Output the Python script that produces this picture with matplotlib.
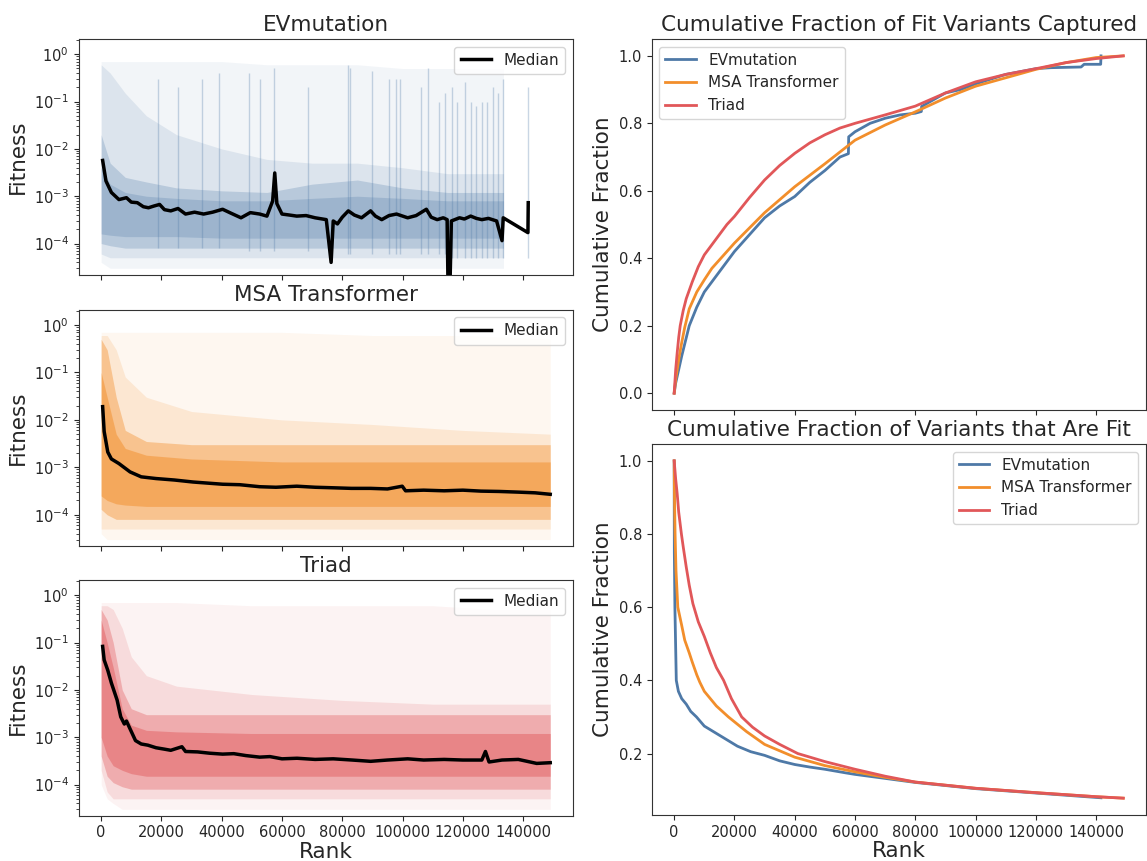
import matplotlib
matplotlib.use('Agg')
import matplotlib.pyplot as plt

plt.rcParams['font.family'] = ['DejaVu Sans']
plt.rcParams['text.color'] = '#262626'
plt.rcParams['axes.labelcolor'] = '#262626'
plt.rcParams['xtick.color'] = '#262626'
plt.rcParams['ytick.color'] = '#262626'
plt.rcParams['axes.edgecolor'] = '#333333'

blue = '#4e79a7'
orange = '#f28e2b'
red = '#e15759'

# ---- EVmutation: fitness cloud (bands) ----
ev_band_rank = [0, 3000, 8000, 15000, 25000, 40000, 55000, 70000, 85000, 100000, 115000, 133500]
ev_outer_hi = [0.7, 0.7, 0.7, 0.7, 0.7, 0.7, 0.6, 0.6, 0.6, 0.5, 0.5, 0.5]
ev_outer_lo = [4e-5, 3e-5, 3e-5, 3e-5, 3e-5, 3e-5, 3e-5, 3e-5, 3e-5, 3e-5, 3e-5, 3e-5]
ev_mid_hi = [0.6, 0.4, 0.15, 0.05, 0.02, 0.01, 6e-3, 5e-3, 5e-3, 4e-3, 3e-3, 3e-3]
ev_mid_lo = [6e-5, 5e-5, 5e-5, 5e-5, 5e-5, 5e-5, 5e-5, 5e-5, 5e-5, 5e-5, 5e-5, 5e-5]
ev_core_hi = [2e-2, 5e-3, 2.5e-3, 2e-3, 1.5e-3, 1.3e-3, 1.2e-3, 1.8e-3, 2.2e-3, 1.5e-3, 1.2e-3, 1.2e-3]
ev_core_lo = [1e-4, 9e-5, 8e-5, 8e-5, 8e-5, 8e-5, 8e-5, 8e-5, 8e-5, 8e-5, 8e-5, 8e-5]
ev_inner_hi = [4e-3, 1.8e-3, 1.2e-3, 1e-3, 9e-4, 8e-4, 8e-4, 9e-4, 1e-3, 9e-4, 8e-4, 8e-4]
ev_inner_lo = [1.6e-4, 1.5e-4, 1.4e-4, 1.4e-4, 1.4e-4, 1.3e-4, 1.3e-4, 1.3e-4, 1.3e-4, 1.3e-4, 1.3e-4, 1.3e-4]

ev_stripe_rank = [18800, 25500, 33500, 39000, 48900, 52600, 57500, 68500, 81800, 82700, 90000,
                  95600, 97800, 99300, 106000, 108500, 112200, 114000, 116500, 117900, 120800,
                  122600, 124500, 126300, 128100, 130000, 131800, 133400, 141600]
ev_stripe_top = [0.3, 0.2, 0.3, 0.4, 0.4, 0.3, 0.5, 0.2, 0.6, 0.5, 0.45, 0.3, 0.3, 0.3, 0.2,
                 0.5, 0.1, 0.15, 0.2, 0.1, 0.26, 0.1, 0.08, 0.1, 0.1, 0.2, 0.15, 0.3, 0.2]
ev_stripe_bot = [8e-5, 8e-5, 8e-5, 8e-5, 7e-5, 7e-5, 7e-5, 7e-5, 6e-5, 6e-5, 6e-5, 6e-5, 6e-5,
                 6e-5, 6e-5, 6e-5, 6e-5, 6e-5, 5e-5, 5e-5, 5e-5, 5e-5, 5e-5, 5e-5, 5e-5, 5e-5,
                 5e-5, 5e-5, 5e-5]

ev_med_rank = [500, 1600, 3400, 5900, 8400, 10000, 12000, 14000, 15700, 17500, 19400, 21000, 23100,
               25500, 28000, 31000, 34000, 37000, 40300, 43000, 46400, 49500, 52600, 55000, 56900,
               57600, 58300, 60000, 62500, 64900, 68000, 71000, 74700, 76300, 77000, 78400, 80000,
               82000, 84000, 86400, 89400, 91000, 93100, 95500, 98000, 101700, 104500, 107900,
               109500, 111500, 113500, 114800, 115100, 115700, 116200, 118900, 120500, 122600,
               124500, 126300, 128500, 131200, 133000, 133400, 141600, 141700]
ev_med = [5.7e-3, 2.1e-3, 1.2e-3, 8.5e-4, 9.3e-4, 7.5e-4, 7.3e-4, 6.0e-4, 5.7e-4, 6.2e-4, 6.7e-4,
          5.2e-4, 4.9e-4, 5.5e-4, 4.2e-4, 4.6e-4, 4.2e-4, 4.6e-4, 5.3e-4, 4.4e-4, 3.5e-4, 4.5e-4,
          4.2e-4, 3.8e-4, 7.9e-4, 3.1e-3, 7e-4, 4.2e-4, 4.0e-4, 3.8e-4, 3.9e-4, 3.5e-4, 3.2e-4,
          4e-5, 3e-4, 2.6e-4, 3.6e-4, 4.9e-4, 4.0e-4, 3.5e-4, 4.9e-4, 3.8e-4, 3.2e-4, 3.9e-4,
          4.2e-4, 3.5e-4, 3.9e-4, 5.3e-4, 3.6e-4, 3.2e-4, 3.5e-4, 3.2e-4, 1e-5, 1e-5, 3e-4,
          3.5e-4, 3.3e-4, 3.8e-4, 3.4e-4, 3.2e-4, 3.4e-4, 3.0e-4, 1.15e-4, 3.5e-4, 1.7e-4, 7.3e-4]

# ---- MSA Transformer ----
msa_band_rank = [0, 2000, 5000, 8000, 15000, 30000, 60000, 90000, 120000, 149000]
msa_outer_hi = [0.7, 0.7, 0.7, 0.7, 0.7, 0.7, 0.7, 0.6, 0.6, 0.5]
msa_outer_lo = [4e-5, 3e-5, 3e-5, 3e-5, 3e-5, 3e-5, 3e-5, 3e-5, 3e-5, 3e-5]
msa_mid_hi = [0.6, 0.6, 0.3, 0.08, 0.03, 0.015, 0.01, 0.008, 0.006, 0.005]
msa_mid_lo = [5e-5, 5e-5, 5e-5, 5e-5, 5e-5, 5e-5, 5e-5, 5e-5, 5e-5, 5e-5]
msa_core_hi = [0.5, 0.3, 0.03, 6e-3, 3.5e-3, 3e-3, 3e-3, 3e-3, 3e-3, 3e-3]
msa_core_lo = [1.3e-4, 1e-4, 8e-5, 8e-5, 8e-5, 8e-5, 8e-5, 8e-5, 8e-5, 8e-5]
msa_inner_hi = [0.1, 0.03, 5e-3, 2.5e-3, 1.8e-3, 1.5e-3, 1.3e-3, 1.3e-3, 1.3e-3, 1.3e-3]
msa_inner_lo = [2.5e-4, 2e-4, 1.7e-4, 1.6e-4, 1.5e-4, 1.5e-4, 1.5e-4, 1.5e-4, 1.5e-4, 1.5e-4]

msa_med_rank = [500, 1000, 2200, 3400, 5900, 9600, 13300, 18200, 24300, 30500, 40300, 46000,
                52600, 58000, 64900, 71000, 77200, 83000, 89400, 95000, 99900, 101000, 107000,
                113800, 120000, 126000, 132000, 138400, 144000, 149000]
msa_med = [1.9e-2, 5.7e-3, 2.1e-3, 1.5e-3, 1.2e-3, 8e-4, 6.3e-4, 5.8e-4, 5.4e-4, 4.9e-4, 4.4e-4,
           4.3e-4, 3.9e-4, 3.8e-4, 4.0e-4, 3.8e-4, 3.7e-4, 3.6e-4, 3.6e-4, 3.5e-4, 4.0e-4, 3.2e-4,
           3.3e-4, 3.2e-4, 3.3e-4, 3.15e-4, 3.1e-4, 3.0e-4, 2.9e-4, 2.7e-4]

# ---- Triad ----
tri_band_rank = [0, 2000, 4000, 7000, 10000, 15000, 25000, 50000, 80000, 110000, 130000, 149000]
tri_outer_hi = [0.7, 0.7, 0.7, 0.7, 0.7, 0.7, 0.7, 0.6, 0.6, 0.6, 0.5, 0.5]
tri_outer_lo = [1e-4, 5e-5, 4e-5, 3e-5, 3e-5, 3e-5, 3e-5, 3e-5, 3e-5, 3e-5, 3e-5, 3e-5]
tri_mid_hi = [0.6, 0.6, 0.5, 0.2, 0.05, 0.02, 0.012, 0.008, 0.006, 0.005, 0.005, 0.005]
tri_mid_lo = [2e-4, 7e-5, 5e-5, 5e-5, 5e-5, 5e-5, 5e-5, 5e-5, 5e-5, 5e-5, 5e-5, 5e-5]
tri_core_hi = [0.5, 0.3, 0.1, 0.01, 4e-3, 3e-3, 3e-3, 3e-3, 3e-3, 3e-3, 3e-3, 3e-3]
tri_core_lo = [4e-4, 1.5e-4, 1.1e-4, 9e-5, 8e-5, 8e-5, 8e-5, 8e-5, 8e-5, 8e-5, 8e-5, 8e-5]
tri_inner_hi = [0.3, 0.1, 0.03, 4e-3, 1.8e-3, 1.4e-3, 1.3e-3, 1.2e-3, 1.2e-3, 1.2e-3, 1.2e-3, 1.2e-3]
tri_inner_lo = [1e-3, 4e-4, 2.5e-4, 2e-4, 1.7e-4, 1.5e-4, 1.5e-4, 1.5e-4, 1.5e-4, 1.5e-4, 1.5e-4, 1.5e-4]

tri_med_rank = [500, 1000, 2200, 3400, 5300, 6500, 7700, 8400, 9600, 11400, 13300, 15500, 18200,
                21000, 23100, 26800, 28000, 32000, 36000, 40300, 44000, 48000, 52600, 56000, 60000,
                65000, 71000, 77000, 83300, 89400, 95000, 101700, 107000, 113800, 120000, 126300,
                127500, 128700, 133000, 138400, 144500, 149000]
tri_med = [8.3e-2, 4.3e-2, 2.6e-2, 1.4e-2, 6.1e-3, 2.7e-3, 1.9e-3, 2.2e-3, 1.5e-3, 8.5e-4, 7.2e-4,
           6.8e-4, 6e-4, 5.6e-4, 5.3e-4, 6.3e-4, 5.0e-4, 4.9e-4, 4.6e-4, 4.4e-4, 4.5e-4, 4.1e-4,
           3.8e-4, 3.9e-4, 3.5e-4, 3.6e-4, 3.4e-4, 3.5e-4, 3.3e-4, 3.1e-4, 3.3e-4, 3.5e-4, 3.3e-4,
           3.4e-4, 3.3e-4, 3.3e-4, 5e-4, 3.0e-4, 3.3e-4, 3.4e-4, 2.8e-4, 2.9e-4]

# ---- cumulative fraction of fit variants captured ----
cap_ev_rank = [0, 500, 1000, 2500, 5000, 7500, 10000, 12500, 15000, 20000, 25000, 30000, 35000,
               40000, 45000, 50000, 55000, 57800, 57900, 60000, 65000, 70000, 75000, 80000, 82000,
               82100, 90000, 95000, 100000, 110000, 120000, 125000, 130000, 135000, 136000,
               141500, 141600]
cap_ev = [0, 0.03, 0.05, 0.11, 0.2, 0.255, 0.3, 0.33, 0.36, 0.42, 0.47, 0.52, 0.555, 0.583, 0.625,
          0.66, 0.70, 0.71, 0.76, 0.775, 0.8, 0.815, 0.825, 0.83, 0.835, 0.85, 0.89, 0.90, 0.917,
          0.945, 0.962, 0.965, 0.966, 0.967, 0.975, 0.975, 1.0]
cap_msa_rank = [0, 500, 1000, 1700, 2500, 3500, 5000, 7500, 10000, 12500, 15000, 20000, 25000,
                30000, 40000, 50000, 60000, 70000, 80000, 90000, 100000, 110000, 120000, 130000,
                140000, 149000]
cap_msa = [0, 0.04, 0.07, 0.11, 0.15, 0.195, 0.25, 0.3, 0.336, 0.37, 0.395, 0.445, 0.49, 0.535,
           0.612, 0.68, 0.75, 0.795, 0.834, 0.875, 0.91, 0.935, 0.96, 0.98, 0.995, 1.0]
cap_tri_rank = [0, 500, 1000, 1500, 2000, 3000, 4000, 6000, 8000, 10000, 12500, 15000, 17500,
                20000, 25000, 30000, 35000, 40000, 45000, 50000, 55000, 60000, 70000, 80000, 90000,
                100000, 110000, 120000, 130000, 140000, 149000]
cap_tri = [0, 0.07, 0.12, 0.165, 0.2, 0.245, 0.28, 0.33, 0.375, 0.41, 0.44, 0.47, 0.50, 0.524,
           0.58, 0.632, 0.675, 0.711, 0.742, 0.766, 0.786, 0.80, 0.825, 0.851, 0.89, 0.923,
           0.945, 0.962, 0.98, 0.992, 1.0]

# ---- cumulative fraction of variants that are fit ----
fit_ev_rank = [0, 50, 240, 700, 1400, 2500, 4000, 5500, 7400, 10000, 13000, 17000, 21000, 25400,
               30000, 35000, 40000, 45000, 50000, 57000, 60000, 80000, 100000, 120000, 141600]
fit_ev = [1.0, 0.75, 0.6, 0.4, 0.37, 0.35, 0.335, 0.315, 0.30, 0.275, 0.26, 0.24, 0.22, 0.205, 0.195,
          0.18, 0.17, 0.163, 0.157, 0.147, 0.143, 0.121, 0.104, 0.092, 0.079]
fit_msa_rank = [0, 100, 300, 600, 1200, 2500, 3500, 5000, 6000, 7500, 8500, 10000, 14000, 18000,
                24000, 30000, 40000, 50000, 60000, 70000, 80000, 100000, 120000, 140000, 149000]
fit_msa = [1.0, 0.9, 0.8, 0.7, 0.6, 0.55, 0.51, 0.475, 0.45, 0.415, 0.395, 0.37, 0.33, 0.30, 0.26,
           0.225, 0.19, 0.167, 0.15, 0.135, 0.122, 0.105, 0.093, 0.082, 0.078]
fit_tri_rank = [0, 500, 1000, 1500, 2400, 3000, 4000, 5000, 6200, 8000, 10000, 12000, 14000,
                16400, 19000, 22400, 26000, 30000, 35000, 41000, 50000, 60000, 70000, 80000,
                100000, 120000, 140000, 149000]
fit_tri = [1.0, 0.95, 0.91, 0.86, 0.80, 0.765, 0.71, 0.66, 0.61, 0.56, 0.52, 0.475, 0.435, 0.40,
           0.35, 0.30, 0.272, 0.248, 0.225, 0.20, 0.178, 0.157, 0.138, 0.122, 0.105, 0.093,
           0.082, 0.078]


fig = plt.figure(figsize=(11.47, 8.61), dpi=100)
ax_ev = fig.add_axes([0.0686, 0.6810, 0.4307, 0.2737])
ax_msa = fig.add_axes([0.0686, 0.3659, 0.4307, 0.2744], sharex=ax_ev)
ax_tri = fig.add_axes([0.0686, 0.0526, 0.4307, 0.2738], sharex=ax_ev)
ax_cap = fig.add_axes([0.5682, 0.5238, 0.4307, 0.4309])
ax_fit = fig.add_axes([0.5682, 0.0534, 0.4307, 0.4309], sharex=ax_cap)

# cloud layers: (lo, hi, alpha)
panels = [
    (ax_ev, 'EVmutation', blue, ev_band_rank,
     [(ev_outer_lo, ev_outer_hi, 0.07), (ev_mid_lo, ev_mid_hi, 0.13),
      (ev_core_lo, ev_core_hi, 0.25), (ev_inner_lo, ev_inner_hi, 0.25)],
     ev_med_rank, ev_med),
    (ax_msa, 'MSA Transformer', orange, msa_band_rank,
     [(msa_outer_lo, msa_outer_hi, 0.07), (msa_mid_lo, msa_mid_hi, 0.15),
      (msa_core_lo, msa_core_hi, 0.4), (msa_inner_lo, msa_inner_hi, 0.5)],
     msa_med_rank, msa_med),
    (ax_tri, 'Triad', red, tri_band_rank,
     [(tri_outer_lo, tri_outer_hi, 0.07), (tri_mid_lo, tri_mid_hi, 0.15),
      (tri_core_lo, tri_core_hi, 0.35), (tri_inner_lo, tri_inner_hi, 0.45)],
     tri_med_rank, tri_med),
]

for ax, name, col, brank, layers, mrank, med in panels:
    for lo, hi, a in layers:
        ax.fill_between(brank, lo, hi, color=col, alpha=a, linewidth=0)
    if ax is ax_ev:
        ax.vlines(ev_stripe_rank, ev_stripe_bot, ev_stripe_top, color=col, alpha=0.3, linewidth=1.0)
    ax.plot(mrank, med, color='black', linewidth=2.5, label='Median')
    ax.set_yscale('log')
    ax.set_ylim(2.2e-5, 2.1)
    ax.set_title(name, fontsize=15.5)
    ax.set_ylabel('Fitness', fontsize=15.5)
    ax.legend(loc='upper right', fontsize=11)
    ax.tick_params(labelsize=10.5)

ax_tri.set_xlabel('Rank', fontsize=15.5, labelpad=1)
ax_tri.set_xticks([0, 20000, 40000, 60000, 80000, 100000, 120000, 140000])
ax_ev.tick_params(labelbottom=False)
ax_msa.tick_params(labelbottom=False)

ax_cap.plot(cap_ev_rank, cap_ev, color=blue, linewidth=2, label='EVmutation')
ax_cap.plot(cap_msa_rank, cap_msa, color=orange, linewidth=2, label='MSA Transformer')
ax_cap.plot(cap_tri_rank, cap_tri, color=red, linewidth=2, label='Triad')
ax_cap.set_title('Cumulative Fraction of Fit Variants Captured', fontsize=15.5)
ax_cap.set_ylabel('Cumulative Fraction', fontsize=15.5)
ax_cap.legend(loc='upper left', fontsize=11)
ax_cap.tick_params(labelsize=10.5, labelbottom=False)

ax_fit.plot(fit_ev_rank, fit_ev, color=blue, linewidth=2, label='EVmutation')
ax_fit.plot(fit_msa_rank, fit_msa, color=orange, linewidth=2, label='MSA Transformer')
ax_fit.plot(fit_tri_rank, fit_tri, color=red, linewidth=2, label='Triad')
ax_fit.set_title('Cumulative Fraction of Variants that Are Fit', fontsize=15.5)
ax_fit.set_ylabel('Cumulative Fraction', fontsize=15.5)
ax_fit.set_xlabel('Rank', fontsize=15.5, labelpad=1)
ax_fit.set_xticks([0, 20000, 40000, 60000, 80000, 100000, 120000, 140000])
ax_fit.legend(loc='upper right', fontsize=11)
ax_fit.tick_params(labelsize=10.5)

fig.savefig('out.png', dpi=100)
